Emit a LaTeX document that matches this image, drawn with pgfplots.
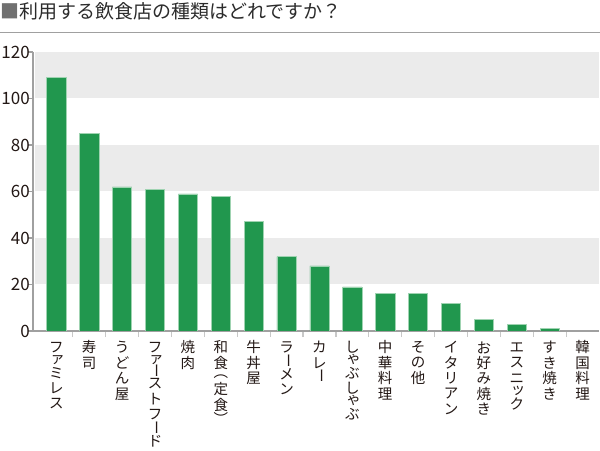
\documentclass[border=0pt]{standalone}
\usepackage{fontspec}
\usepackage{graphicx}
\usepackage{pgfplots}
\pgfplotsset{compat=1.18}
\setmainfont{Noto Sans CJK JP}
\definecolor{bargreen}{HTML}{21974E}
\definecolor{barborder}{HTML}{9FD3B1}
\definecolor{band}{HTML}{EBEBEB}
\definecolor{axisgray}{HTML}{A0A0A0}
\definecolor{tickgray}{HTML}{C8C8C8}
\definecolor{txt}{HTML}{231815}
\definecolor{titlecol}{HTML}{2B2B2B}
\definecolor{sqcol}{HTML}{707070}
% vertical stacking of characters
\newcommand\vc[2]{\hbox to 16bp{\hss\vbox to #1{\vss\hbox{#2}\vss}\hss}}
\newcommand\vn[1]{\vc{15.5bp}{#1}}
\newcommand\vs[1]{\vc{10bp}{\raisebox{2bp}{\hspace{2.5bp}#1}}}
\newcommand\vl{\vc{11bp}{\rotatebox[origin=c]{-90}{ー}}}
\newcommand\vp[1]{\vc{11bp}{#1}}
\newcommand\vlab[1]{\vbox{\offinterlineskip #1}}
\begin{document}
\begin{tikzpicture}
\useasboundingbox (0,0) rectangle (600bp,451bp);
\fill[white] (0,0) rectangle (600bp,451bp);
\node[anchor=west, inner sep=0pt, font=\fontsize{19bp}{21bp}\selectfont] at (0bp,440bp) {\textcolor{sqcol}{■}\textcolor{titlecol}{利用する飲食店の種類はどれですか？}};
\draw[axisgray, line width=1.2bp] (0bp,418.5bp) -- (600bp,418.5bp);
\begin{axis}[
  at={(33bp,120bp)}, anchor=south west,
  scale only axis, width=566bp, height=279bp,
  xmin=-0.71, xmax=16.5, ymin=0, ymax=120,
  axis lines=left,
  axis line style={-, draw=axisgray, line width=2bp},
  ytick={0,20,...,120},
  xtick={0,...,16},
  xticklabels={
    {\vlab{\vn{フ}\vs{ァ}\vn{ミ}\vn{レ}\vn{ス}}},
    {\vlab{\vn{寿}\vn{司}}},
    {\vlab{\vn{う}\vn{ど}\vn{ん}\vn{屋}}},
    {\vlab{\vn{フ}\vs{ァ}\vl\vn{ス}\vn{ト}\vn{フ}\vl\vn{ド}}},
    {\vlab{\vn{焼}\vn{肉}}},
    {\vlab{\vn{和}\vn{食}\vp{︵}\vn{定}\vn{食}\vp{︶}}},
    {\vlab{\vn{牛}\vn{丼}\vn{屋}}},
    {\vlab{\vn{ラ}\vl\vn{メ}\vn{ン}}},
    {\vlab{\vn{カ}\vn{レ}\vl}},
    {\vlab{\vn{し}\vs{ゃ}\vn{ぶ}\vn{し}\vs{ゃ}\vn{ぶ}}},
    {\vlab{\vn{中}\vn{華}\vn{料}\vn{理}}},
    {\vlab{\vn{そ}\vn{の}\vn{他}}},
    {\vlab{\vn{イ}\vn{タ}\vn{リ}\vn{ア}\vn{ン}}},
    {\vlab{\vn{お}\vn{好}\vn{み}\vn{焼}\vn{き}}},
    {\vlab{\vn{エ}\vn{ス}\vn{ニ}\vs{ッ}\vn{ク}}},
    {\vlab{\vn{す}\vn{き}\vn{焼}\vn{き}}},
    {\vlab{\vn{韓}\vn{国}\vn{料}\vn{理}}}
  },
  minor xtick={0.5,1.5,...,15.5},
  tick align=outside,
  major tick length=5bp, minor tick length=6bp,
  major x tick style={draw=none},
  minor x tick style={draw=tickgray, line width=1.2bp},
  major y tick style={draw=axisgray, line width=1.2bp},
  /pgf/number format/assume math mode=true,
  yticklabel style={font=\fontsize{17bp}{17bp}\selectfont, text=txt, inner sep=0pt, anchor=east, xshift=2bp},
  xticklabel style={font=\fontsize{14.5bp}{15bp}\selectfont, text=txt, inner sep=0pt, anchor=north, yshift=-3.5bp},
]
\fill[band] (axis cs:-0.65,100) rectangle (axis cs:16.5,120);
\fill[band] (axis cs:-0.65,60) rectangle (axis cs:16.5,80);
\fill[band] (axis cs:-0.65,20) rectangle (axis cs:16.5,40);
\addplot[ybar, bar width=19.3bp, bar shift=0pt, fill=bargreen, draw=barborder, line width=0.6bp]
  coordinates {(0,109) (1,85) (2,62) (3,61) (4,59) (5,58) (6,47) (7,32) (8,28) (9,19) (10,16) (11,16) (12,12) (13,5) (14,3) (15,1) (16,0)};
\end{axis}
\end{tikzpicture}
\end{document}
